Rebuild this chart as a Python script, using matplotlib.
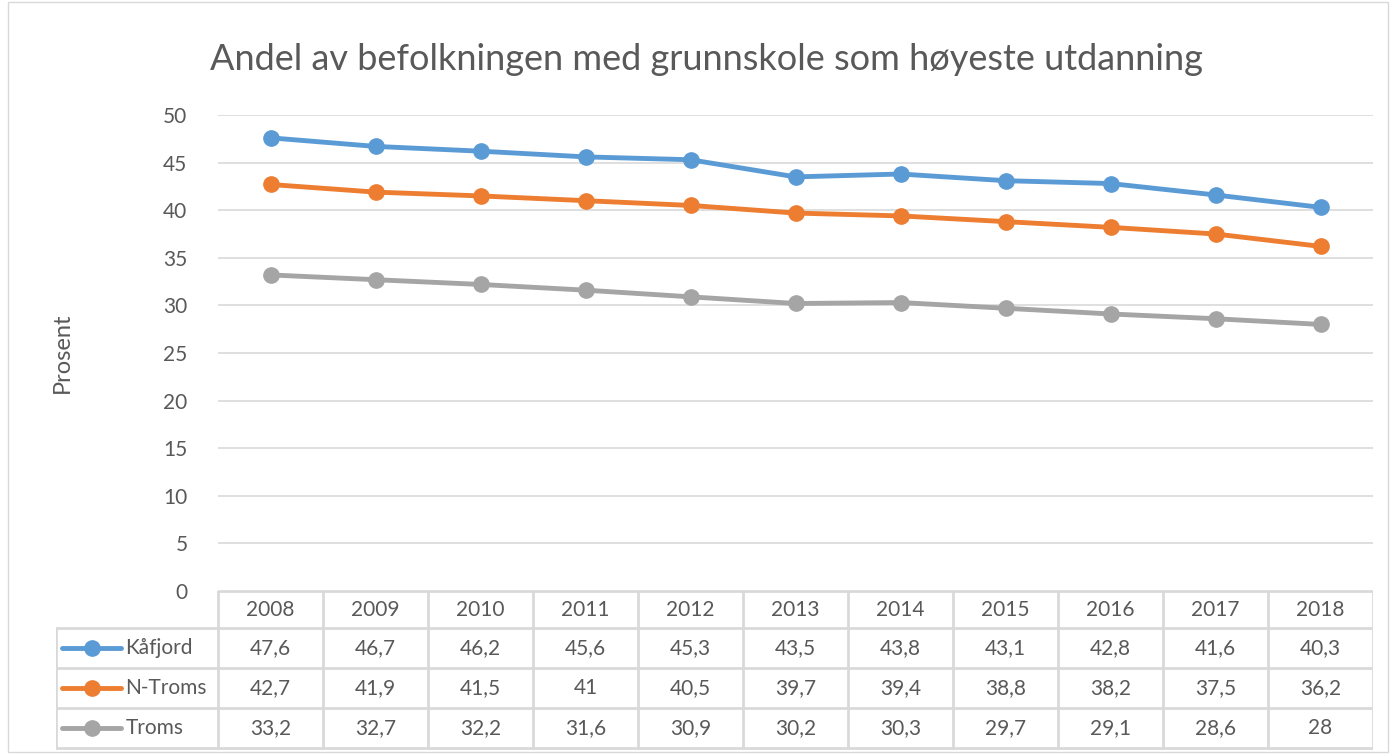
import matplotlib.pyplot as plt
from matplotlib.lines import Line2D

plt.rcParams['font.family'] = ['Lato', 'DejaVu Sans']

years = ["2008", "2009", "2010", "2011", "2012", "2013", "2014", "2015", "2016", "2017", "2018"]
series_names = ["Kåfjord", "N-Troms", "Troms"]
kafjord = [47.6, 46.7, 46.2, 45.6, 45.3, 43.5, 43.8, 43.1, 42.8, 41.6, 40.3]
ntroms = [42.7, 41.9, 41.5, 41, 40.5, 39.7, 39.4, 38.8, 38.2, 37.5, 36.2]
troms = [33.2, 32.7, 32.2, 31.6, 30.9, 30.2, 30.3, 29.7, 29.1, 28.6, 28]
series = [kafjord, ntroms, troms]
colors = ["#5B9BD5", "#ED7D31", "#A5A5A5"]
text_col = "#595959"
grid_col = "#D9D9D9"
fs = 15

W, H = 1392, 754
fig = plt.figure(figsize=(W / 100, H / 100), dpi=100)

# outer frame
fig.patches.append(plt.Rectangle((8 / W, 2 / H), 1380 / W, 750 / H, transform=fig.transFigure,
                                 fill=False, edgecolor=grid_col, lw=1))

# plot area in pixels
x0, x1 = 218, 1373
ytop, ybot = 115, 591
ax = fig.add_axes([x0 / W, 1 - ybot / H, (x1 - x0) / W, (ybot - ytop) / H])
xs = [i + 0.5 for i in range(len(years))]
for vals, c in zip(series, colors):
    ax.plot(xs, vals, '-o', color=c, lw=3.5, ms=11, solid_capstyle='round')
ax.set_xlim(0, len(years))
ax.set_ylim(0, 50)
ax.set_yticks(range(0, 51, 5))
ax.set_xticks([])
ax.grid(axis='y', color=grid_col, lw=1.2)
ax.set_axisbelow(True)
for s in ax.spines.values():
    s.set_visible(False)
ax.tick_params(axis='y', length=0, pad=22, labelsize=fs, labelcolor=text_col)
for lab in ax.get_yticklabels():
    lab.set_horizontalalignment('right')

fig.text(62 / W, 1 - 353 / H, "Prosent", rotation=90, ha='center', va='center',
         fontsize=17, color=text_col)
fig.text(706 / W, 1 - 60 / H, "Andel av befolkningen med grunnskole som høyeste utdanning",
         ha='center', va='center', fontsize=26, color=text_col)

# data table below the plot
tx0, tx1 = 56, 1373
tb = fig.add_axes([tx0 / W, 1 - 750 / H, (tx1 - tx0) / W, (750 - 591) / H])
colw = (x1 - x0) / len(years)
lead = (x0 - tx0) / colw
tb.set_xlim(-lead, len(years))
tb.set_ylim(159, 0)
tb.axis('off')
rows = [0, 37, 77, 117, 157]
lc = dict(color=grid_col, lw=2)
# horizontal lines
tb.plot([0, len(years)], [rows[0], rows[0]], **lc)
for r in rows[1:]:
    tb.plot([-lead, len(years)], [r, r], **lc)
# vertical lines
for i in range(len(years) + 1):
    tb.plot([i, i], [rows[0], rows[-1]], **lc)
tb.plot([-lead, -lead], [rows[1], rows[-1]], **lc)

for i, y in enumerate(years):
    tb.text(i + 0.5, (rows[0] + rows[1]) / 2, y, ha='center', va='center', fontsize=fs, color=text_col)
for j, (name, vals, c) in enumerate(zip(series_names, series, colors)):
    yc = (rows[j + 1] + rows[j + 2]) / 2
    tb.add_line(Line2D([-lead + 0.06, -lead + 0.62], [yc, yc], color=c, lw=3.5, solid_capstyle='round'))
    tb.plot([-lead + 0.34], [yc], 'o', color=c, ms=11)
    tb.text(-lead + 0.66, yc, name, ha='left', va='center', fontsize=fs, color=text_col)
    for i, v in enumerate(vals):
        tb.text(i + 0.5, yc, f"{v:g}".replace('.', ','), ha='center', va='center',
                fontsize=fs, color=text_col)

fig.savefig("out.png", dpi=100)
